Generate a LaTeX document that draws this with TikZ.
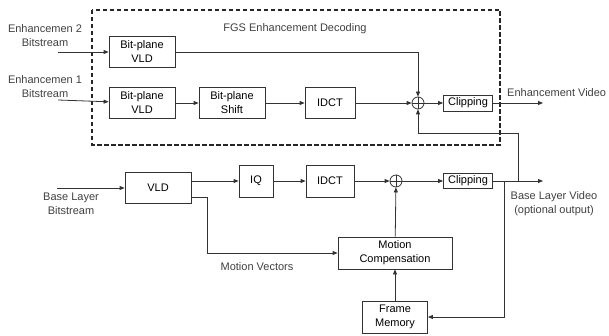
\documentclass[tikz,border=0pt]{standalone}
\usepackage{fontspec}
\setmainfont{Liberation Sans}
\usetikzlibrary{arrows.meta}

\tikzset{
  blk/.style={draw=black!80, line width=0.8pt, minimum width=66pt, minimum height=31pt, inner sep=1pt, align=center},
  sum/.style={draw=black!80, line width=0.8pt, circle, minimum size=12pt, inner sep=0pt},
  lbl/.style={text=black!75, align=center, inner sep=0pt},
  wire/.style={draw=black!80, line width=0.8pt},
  >={Triangle[length=5pt,width=4pt]}
}

\begin{document}
\begin{tikzpicture}[x=1pt,y=-1pt,font=\fontsize{11}{14}\selectfont]
\useasboundingbox (0,0) rectangle (609,336);

\draw[black!85, line width=1.6pt, dash pattern=on 4.5pt off 2.5pt] (92,10) rectangle (500,145);
\node[lbl] (fgs) at (295,29) {FGS Enhancement  Decoding};

\node[lbl] (e2txt) at (45,36) {Enhancemen 2\\Bitstream};
\node[lbl] (e1txt) at (45,87) {Enhancemen 1\\Bitstream};
\node[lbl] (bltxt) at (71,204) {Base Layer\\Bitstream};

\coordinate (e2in) at (58,52);
\coordinate (e1in) at (58,100);
\coordinate (blin) at (57,188);

\node[blk] (vldb) at (142,52) {Bit-plane\\VLD};
\node[blk] (vlda) at (142,103) {Bit-plane\\VLD};
\node[blk] (shift) at (232,103) {Bit-plane\\Shift};
\node[blk, minimum width=50pt] (idcte) at (330,103) {IDCT};
\node[sum] (pluse) at (418,103) {};
\node[blk, minimum width=49pt, minimum height=16pt] (clipe) at (468,103) {Clipping};
\coordinate (eout) at (543,103);
\node[lbl, anchor=west] (evid) at (507,93) {Enhancement Video};

\node[blk] (vld) at (158,188) {VLD};
\node[blk, minimum width=34pt, minimum height=32pt] (iq) at (256,181) {IQ};
\node[blk, minimum width=48pt, minimum height=32pt] (idctb) at (330,181) {IDCT};
\node[sum] (plusb) at (396,181) {};
\node[blk, minimum width=49pt, minimum height=15pt] (clipb) at (468,181) {Clipping};
\coordinate (bout) at (543,181);
\node[lbl] (bvid) at (554,204) {Base Layer Video\\(optional output)};

\node[blk, minimum width=114pt, minimum height=32pt] (mc) at (395,253) {Motion\\Compensation};
\node[blk, minimum width=65pt, minimum height=32pt] (fm) at (395,317) {Frame\\Memory};
\node[lbl] (mvtxt) at (257,267) {Motion Vectors};

\coordinate (mv) at (207,197);
\coordinate (br1) at (518,181);
\coordinate (br2) at (504,181);
\coordinate (fb) at (518,133);

\draw[black!80, line width=0.8pt]
  (pluse.north) -- (pluse.south) (pluse.west) -- (pluse.east)
  (plusb.north) -- (plusb.south) (plusb.west) -- (plusb.east);

\path[wire,->] (e2in) -- (vldb);
\path[wire,->] (e1in) -- (vlda);
\path[wire,->] (vlda) -- (shift);
\path[wire,->] (shift) -- (idcte);
\path[wire,->] (idcte) -- (pluse);
\path[wire,->] (vldb) -| (pluse);
\path[wire,->] (pluse) -- (clipe);
\path[wire,->] (clipe) -- (eout);
\path[wire,->] (br1) -- (fb) -| (pluse);

\path[wire,->] (blin) -- (vld);
\path[wire,->] (vld.east |- iq.west) -- (iq);
\path[wire,->] (iq) -- (idctb);
\path[wire,->] (idctb) -- (plusb);
\path[wire,->] (plusb) -- (clipb);
\path[wire,->] (clipb) -- (bout);
\path[wire,->] (mc) -- (plusb);
\path[wire,->] (fm) -- (mc);
\path[wire,->] (br2) |- (fm);
\path[wire,->] (vld.east |- mv) -- (mv) |- (mc);
\end{tikzpicture}
\end{document}
